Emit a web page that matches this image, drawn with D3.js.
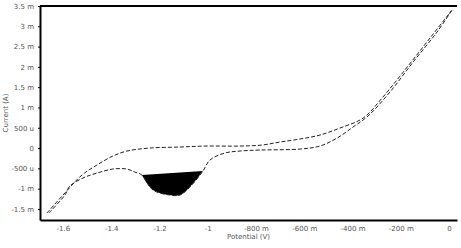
<!DOCTYPE html>
<html>
<head>
<meta charset="utf-8">
<script src="https://cdn.jsdelivr.net/npm/d3@7"></script>
<style>
  body { margin: 0; background: #fff; }
  text { font-family: "DejaVu Sans", sans-serif; }
</style>
</head>
<body>
<div id="chart"></div>
<script>
// potential (V) and current (A)
var fwdPotential = [-1.666, -1.600, -1.521, -1.459, -1.393, -1.335, -1.240, -1.115, -1.011, -0.866,
    -0.775, -0.701, -0.618, -0.535, -0.452, -0.356, -0.274, -0.203, -0.079, 0.012];
var fwdCurrent = [-1.60e-3, -1.16e-3, -0.665e-3, -0.419e-3, -0.197e-3, -0.074e-3, 0, 0.025e-3, 0.049e-3, 0.049e-3,
    0.074e-3, 0.148e-3, 0.222e-3, 0.320e-3, 0.493e-3, 0.739e-3, 1.256e-3, 1.773e-3, 2.709e-3, 3.399e-3];

var revPotential = [-1.658, -1.592, -1.571, -1.517, -1.459, -1.393, -1.335, -1.302, -1.273, -1.227,
    -1.157, -1.115, -1.074, -1.020, -0.991, -0.929, -0.866, -0.783, -0.618, -0.535,
    -0.464, -0.398, -0.336, -0.245, -0.149, -0.050, 0.012];
var revCurrent = [-1.60e-3, -1.158e-3, -0.936e-3, -0.739e-3, -0.616e-3, -0.517e-3, -0.517e-3, -0.591e-3, -0.665e-3, -1.034e-3,
    -1.158e-3, -1.158e-3, -0.961e-3, -0.567e-3, -0.296e-3, -0.123e-3, -0.074e-3, -0.049e-3, -0.025e-3, 0.049e-3,
    0.246e-3, 0.517e-3, 0.788e-3, 1.379e-3, 2.118e-3, 2.857e-3, 3.399e-3];

// integrated peak on the lower branch (indices into rev arrays)
var peakStart = 8, peakEnd = 13;

var xTicks = [-1.6, -1.4, -1.2, -1, -0.8, -0.6, -0.4, -0.2, 0];
var xTickLabels = ["-1.6", "-1.4", "-1.2", "-1", "-800 m", "-600 m", "-400 m", "-200 m", "0"];
var yTicks = [-1.5e-3, -1e-3, -0.5e-3, 0, 0.5e-3, 1e-3, 1.5e-3, 2e-3, 2.5e-3, 3e-3, 3.5e-3];
var yTickLabels = ["-1.5 m", "-1 m", "-500 u", "0", "500 u", "1 m", "1.5 m", "2 m", "2.5 m", "3 m", "3.5 m"];

var margin = {top: 6, right: 4, bottom: 28, left: 40},
    width = 461 - margin.left - margin.right,
    height = 248 - margin.top - margin.bottom;

var svg = d3.select("#chart")
    .append("svg")
    .attr("width", 461)
    .attr("height", 248)
    .append("g")
    .attr("transform", "translate(" + margin.left + "," + margin.top + ")");

var x = d3.scaleLinear().domain([-1.695, 0.033]).range([0, width]);
var y = d3.scaleLinear().domain([-1.773e-3, 3.5e-3]).range([height, 0]);

// X axis
var xAxis = svg.append("g")
    .attr("transform", "translate(0," + height + ")")
    .call(d3.axisBottom(x).tickValues(xTicks).tickSize(0).tickPadding(6)
        .tickFormat(function(d, i) { return xTickLabels[i]; }));
xAxis.select(".domain").attr("stroke", "#000").attr("stroke-width", 2);
xAxis.selectAll("text").attr("fill", "#555").style("font-size", "7px");

// Y axis
var yAxis = svg.append("g")
    .call(d3.axisLeft(y).tickValues(yTicks).tickSize(2).tickSizeOuter(0).tickPadding(4)
        .tickFormat(function(d, i) { return yTickLabels[i]; }));
yAxis.select(".domain").attr("stroke", "#000").attr("stroke-width", 2);
yAxis.selectAll("text").attr("fill", "#555").style("font-size", "7px");

// top border
svg.append("line")
    .attr("x1", 0).attr("x2", width)
    .attr("y1", 0).attr("y2", 0)
    .attr("stroke", "#000").attr("stroke-width", 2);

// axis titles
svg.append("text")
    .attr("x", width / 2).attr("y", height + 19)
    .attr("text-anchor", "middle")
    .style("font-size", "7px").attr("fill", "#555")
    .text("Potential (V)");
svg.append("text")
    .attr("transform", "translate(" + (-32) + "," + (height / 2) + ")rotate(-90)")
    .attr("text-anchor", "middle")
    .style("font-size", "7px").attr("fill", "#555")
    .text("Current (A)");

var line = d3.line()
    .x(function(d) { return x(d[0]); })
    .y(function(d) { return y(d[1]); })
    .curve(d3.curveCatmullRom);

var fwd = d3.zip(fwdPotential, fwdCurrent);
var rev = d3.zip(revPotential, revCurrent);

// filled peak, closed by a straight baseline
svg.append("path")
    .attr("d", line(rev.slice(peakStart, peakEnd + 1)) + "Z")
    .attr("fill", "#000");

svg.append("path")
    .datum(fwd)
    .attr("d", line)
    .attr("fill", "none")
    .attr("stroke", "#222")
    .attr("stroke-width", 1)
    .attr("stroke-dasharray", "4,2");

svg.append("path")
    .datum(rev)
    .attr("d", line)
    .attr("fill", "none")
    .attr("stroke", "#222")
    .attr("stroke-width", 1)
    .attr("stroke-dasharray", "4,2");
</script>
</body>
</html>
